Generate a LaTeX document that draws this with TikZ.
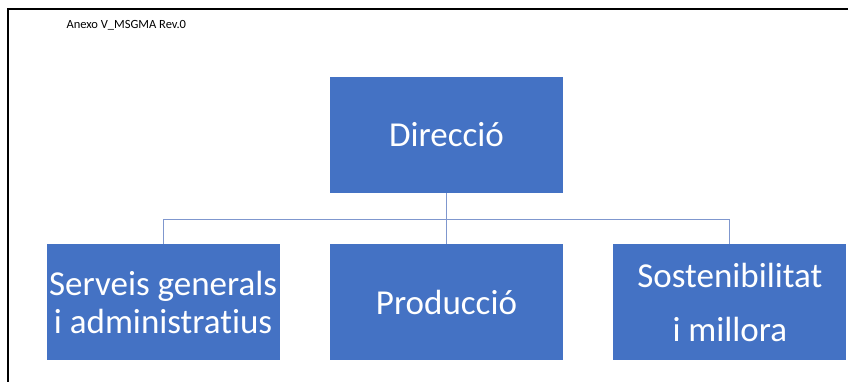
\documentclass[tikz,border=0pt]{standalone}
\usepackage{fontspec}
\setmainfont[Ligatures=NoCommon]{Carlito}
\usepackage{xcolor}
\usetikzlibrary{positioning}
\definecolor{azul}{HTML}{4472C4}
\definecolor{lineaazul}{HTML}{7F97CE}

\begin{document}
\begin{tikzpicture}[
  x=1pt, y=1pt,
  caja/.style={fill=azul, text=white, align=center, inner sep=0pt,
    minimum width=233pt, minimum height=116pt,
    font=\fontsize{35}{38}\selectfont},
  linea/.style={draw=lineaazul, line width=1pt}
]
  \useasboundingbox (0,0) rectangle (848,-382);
  % marco de la hoja
  \draw[line width=2pt] (7,-9) -- (848,-9);
  \draw[line width=1.5pt] (8,-9) -- (8,-382);
  \node[anchor=base west, font=\fontsize{12.5}{14}\selectfont] (rev) at (63,-29)
    {Anexo V\_MSGMA Rev.0};

  \node[caja] (dir) at (446.5,-135) {Direcció};
  \node[caja, below=51pt of dir] (prod) {Producció};
  \node[caja, left=50pt of prod] (serv) {Serveis generals\\i administratius};
  \node[caja, right=50pt of prod] (sost) {Sostenibilitat\\[16pt]i millora};

  \draw[linea] (dir.south) -- (prod.north);
  \draw[linea] (serv.north) -- ++(0,25) -| (sost.north);
\end{tikzpicture}
\end{document}
